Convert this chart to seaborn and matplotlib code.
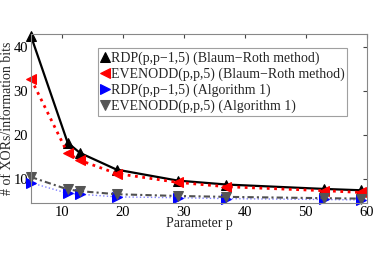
import numpy as np
import pandas as pd
import matplotlib
matplotlib.use("Agg")
import matplotlib.pyplot as plt
import seaborn as sns

# values
p_values = [5, 11, 13, 19, 29, 37, 53, 59]
rdp_br = [42.5, 18.3, 16.0, 12.2, 9.7, 8.8, 7.8, 7.5]
evenodd_br = [32.8, 15.9, 14.3, 11.3, 9.3, 8.3, 7.4, 7.0]
rdp_alg1 = [9.2, 6.8, 6.6, 6.0, 5.8, 5.6, 5.4, 5.3]
evenodd_alg1 = [10.5, 7.7, 7.3, 6.6, 6.2, 6.0, 5.7, 5.6]

labels = ["RDP(p,p\u22121,5) (Blaum\u2212Roth method)",
          "EVENODD(p,p,5) (Blaum\u2212Roth method)",
          "RDP(p,p\u22121,5) (Algorithm 1)",
          "EVENODD(p,p,5) (Algorithm 1)"]

sns.set_style("white")
plt.rcParams['font.family'] = ['Liberation Serif', 'DejaVu Serif']

fig = plt.figure(figsize=(3.74, 2.64), dpi=100)
ax = fig.add_axes([0.083, 0.231, 0.898, 0.64])

styles = [
    dict(color='black', ls='-', lw=1.6, marker='^', ms=7, mfc='black', mec='black'),
    dict(color='red', ls=':', lw=2.0, marker='<', ms=7, mfc='red', mec='red'),
    dict(color='#8080ff', ls=':', lw=1.0, marker='>', ms=7, mfc='blue', mec='blue'),
    dict(color='#505050', ls=(0, (3, 1.5, 1, 1.5)), lw=1.5, marker='v', ms=7, mfc='#555555', mec='#555555'),
]
series = [rdp_br, evenodd_br, rdp_alg1, evenodd_alg1]

for vals, lab, st in zip(series, labels, styles):
    df = pd.DataFrame({'p': p_values, 'x': vals})
    sns.lineplot(data=df, x='p', y='x', ax=ax, label=lab,
                 color=st['color'], linestyle=st['ls'], linewidth=st['lw'],
                 marker=st['marker'], markersize=st['ms'],
                 markerfacecolor=st['mfc'], markeredgecolor=st['mec'],
                 clip_on=False)

ax.set_xlim(5, 60)
ax.set_ylim(4.6, 43)
ax.set_xticks([10, 20, 30, 40, 50, 60])
ax.set_yticks([10, 20, 30, 40])
ax.tick_params(direction='in', length=3, labelsize=10.5, colors='#444444',
               labelcolor='black', top=True, right=True, pad=2)
for s in ax.spines.values():
    s.set_color('#888888')
    s.set_linewidth(0.8)

ax.set_xlabel('Parameter p', fontsize=10, labelpad=-1)
ax.set_ylabel('# of XORs/information bits', fontsize=10, labelpad=0)

leg = ax.legend(loc='upper left', bbox_to_anchor=(0.2, 0.915), fontsize=10,
                frameon=True, fancybox=False, handlelength=0.6,
                handletextpad=0.1, borderpad=0.2, labelspacing=0.2,
                borderaxespad=0)
leg.get_frame().set_edgecolor('#888888')
leg.get_frame().set_linewidth(0.8)
for h in leg.legend_handles:
    h.set_linestyle('None')

fig.savefig('out.png', dpi=100)
